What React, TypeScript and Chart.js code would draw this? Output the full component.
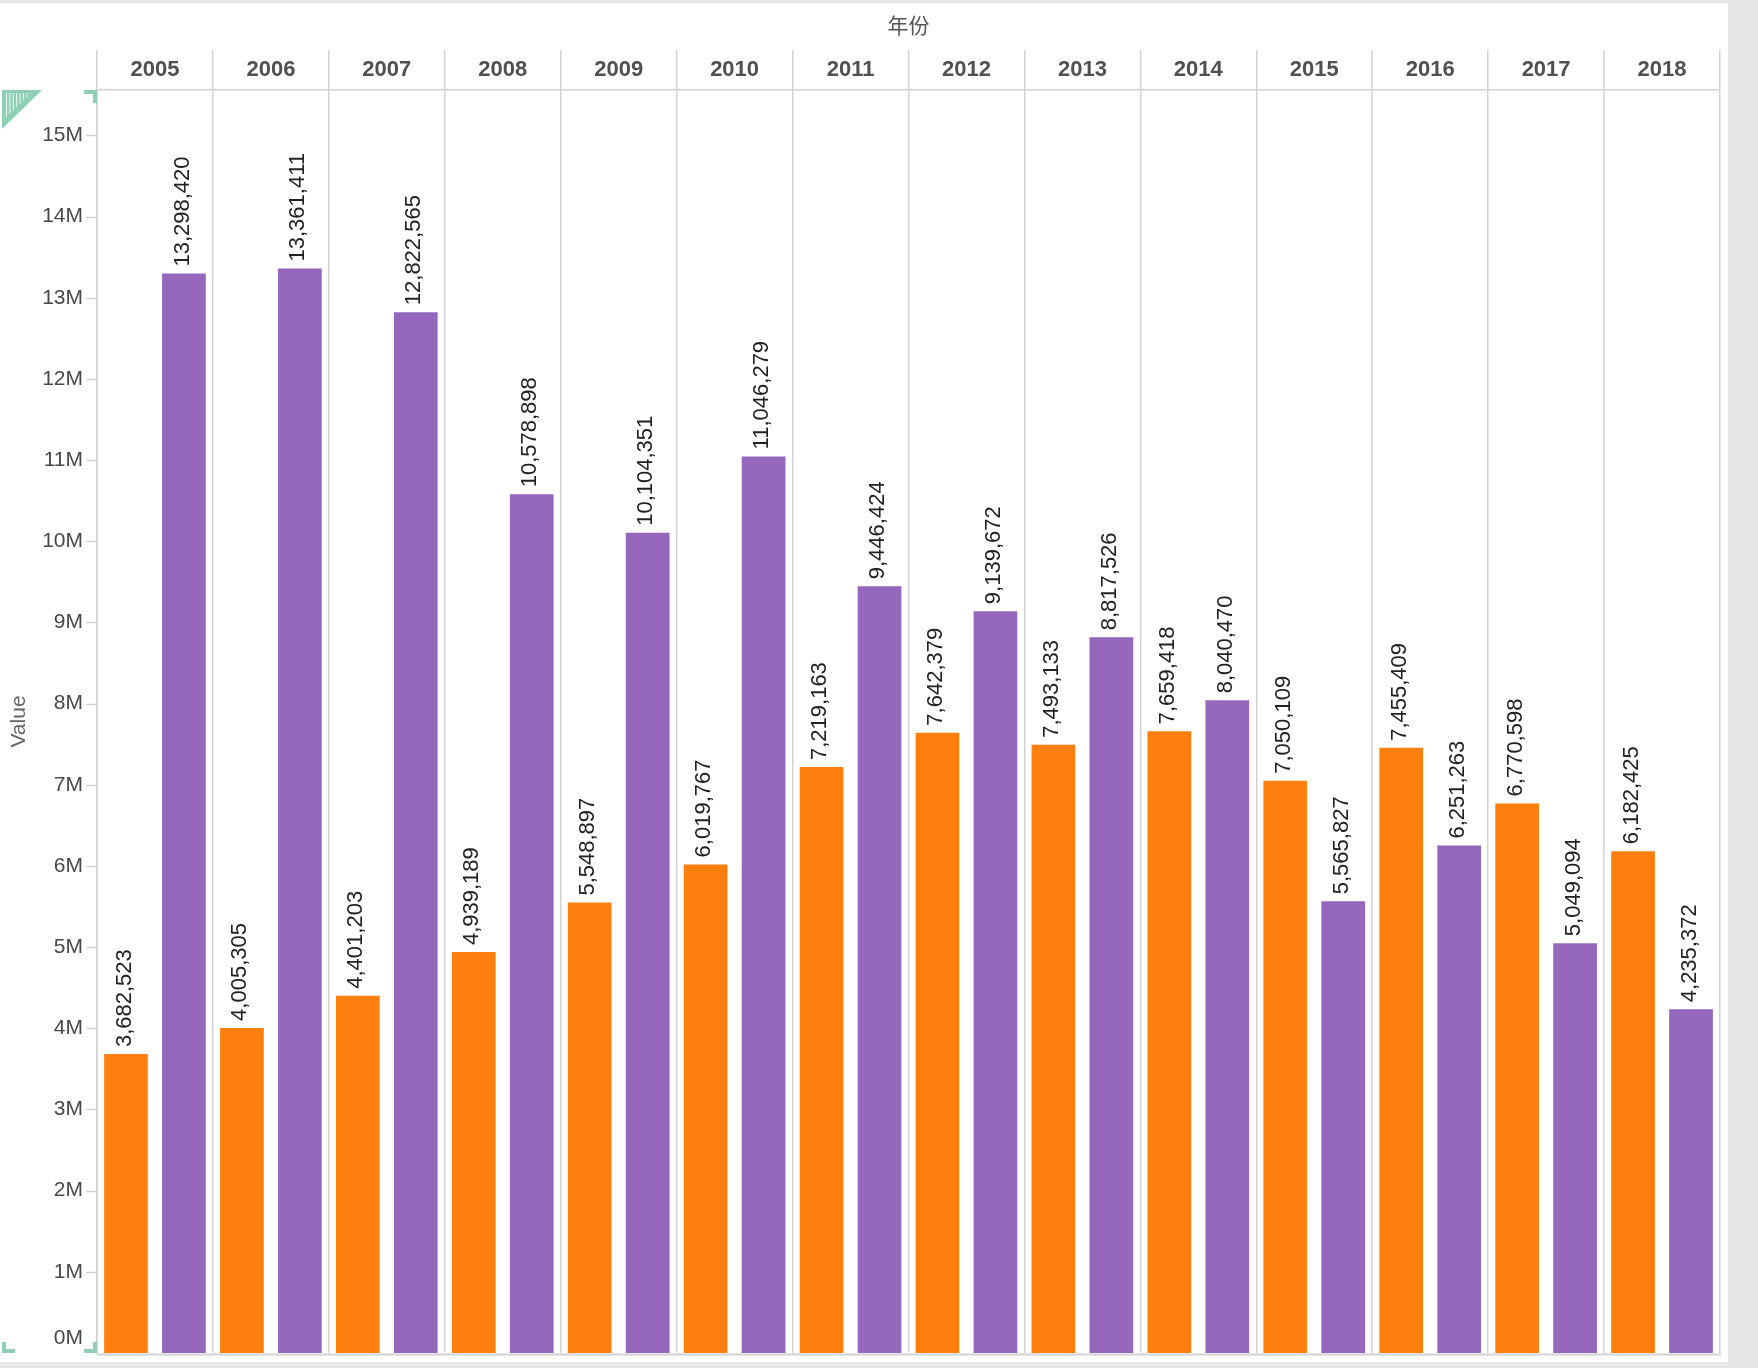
import React, { useEffect, useRef } from 'react';
import { Chart, registerables } from 'chart.js';

Chart.register(...registerables);

const years = ['2005', '2006', '2007', '2008', '2009', '2010', '2011', '2012', '2013', '2014', '2015', '2016', '2017', '2018'];
const orangeValues = [3682523, 4005305, 4401203, 4939189, 5548897, 6019767, 7219163, 7642379, 7493133, 7659418, 7050109, 7455409, 6770598, 6182425];
const purpleValues = [13298420, 13361411, 12822565, 10578898, 10104351, 11046279, 9446424, 9139672, 8817526, 8040470, 5565827, 6251263, 5049094, 4235372];
const yTickValues = [0, 1e6, 2e6, 3e6, 4e6, 5e6, 6e6, 7e6, 8e6, 9e6, 10e6, 11e6, 12e6, 13e6, 14e6, 15e6];
const yTickLabels = ['0M', '1M', '2M', '3M', '4M', '5M', '6M', '7M', '8M', '9M', '10M', '11M', '12M', '13M', '14M', '15M'];
const yMax = 15560000;
const xTitle = '年份';
const yTitle = 'Value';

const ORANGE = '#ff7f0e';
const PURPLE = '#9467bd';
const GRID = '#d2d2d2';
const GREEN = '#8fcfb3';
const FONT = '"Liberation Sans", Arial, Helvetica, sans-serif';

const valueLabels = {
  id: 'valueLabels',
  afterDatasetsDraw(chart: any) {
    const ctx = chart.ctx;
    ctx.save();
    ctx.font = `22px ${FONT}`;
    ctx.fillStyle = '#222';
    ctx.textAlign = 'left';
    ctx.textBaseline = 'middle';
    chart.data.datasets.forEach((ds: any, di: number) => {
      const meta = chart.getDatasetMeta(di);
      meta.data.forEach((bar: any, i: number) => {
        const v = ds.data[i] as number;
        ctx.save();
        ctx.translate(bar.x, bar.y - 7);
        ctx.rotate(-Math.PI / 2);
        ctx.fillText(v.toLocaleString('en-US'), 0, -1.5);
        ctx.restore();
      });
    });
    const ca = chart.chartArea;
    ctx.strokeStyle = GRID;
    ctx.lineWidth = 2;
    ctx.beginPath();
    ctx.moveTo(ca.left, ca.bottom + 1.5);
    ctx.lineTo(ca.right + 1, ca.bottom + 1.5);
    ctx.stroke();
    ctx.restore();
  },
};

const yAxisTicks = {
  id: 'yAxisTicks',
  afterDraw(chart: any) {
    const ctx = chart.ctx;
    const ca = chart.chartArea;
    const yScale = chart.scales.y;
    ctx.save();
    ctx.font = `21px ${FONT}`;
    ctx.fillStyle = '#484848';
    ctx.textAlign = 'right';
    ctx.textBaseline = 'middle';
    ctx.strokeStyle = GRID;
    ctx.lineWidth = 1.5;
    yTickValues.forEach((v, i) => {
      const y = yScale.getPixelForValue(v);
      if (v !== 0) {
        ctx.beginPath();
        ctx.moveTo(ca.left - 11, Math.round(y) + 0.5);
        ctx.lineTo(ca.left, Math.round(y) + 0.5);
        ctx.stroke();
        ctx.fillText(yTickLabels[i], ca.left - 14, y);
      } else {
        ctx.fillText(yTickLabels[i], ca.left - 14, y - 15);
      }
    });
    ctx.restore();
  },
};

const decorations = {
  id: 'decorations',
  afterDraw(chart: any) {
    const ctx = chart.ctx;
    const ca = chart.chartArea;
    ctx.save();
    const top = ca.top;
    ctx.fillStyle = GREEN;
    ctx.beginPath();
    ctx.moveTo(2, top);
    ctx.lineTo(42, top);
    ctx.lineTo(2, top + 39);
    ctx.closePath();
    ctx.fill();
    ctx.strokeStyle = 'rgba(255,255,255,0.85)';
    ctx.lineWidth = 1;
    for (let x = 6; x <= 32; x += 3.4) {
      const yEnd = top + (42 - x) * (39 / 40) - 8;
      ctx.beginPath();
      ctx.moveTo(x + 0.5, top + 3);
      ctx.lineTo(x + 0.5, Math.max(top + 3, yEnd));
      ctx.stroke();
    }
    ctx.fillStyle = GREEN;
    const L = ca.left;
    const B = ca.bottom;
    ctx.fillRect(L - 13, top, 13, 4);
    ctx.fillRect(L - 4, top, 4, 13);
    ctx.fillRect(2, B - 11, 4, 11);
    ctx.fillRect(2, B - 4, 13, 4);
    ctx.fillRect(L - 4, B - 11, 4, 11);
    ctx.fillRect(L - 13, B - 4, 13, 4);
    ctx.restore();
  },
};

export default function App() {
  const canvasRef = useRef<HTMLCanvasElement | null>(null);

  useEffect(() => {
    const canvas = canvasRef.current;
    if (!canvas) return;
    const chart = new Chart(canvas, {
      type: 'bar',
      data: {
        labels: years,
        datasets: [
          {
            label: 'A',
            data: orangeValues,
            backgroundColor: ORANGE,
            borderWidth: 0,
            barPercentage: 0.754,
            categoryPercentage: 1,
          },
          {
            label: 'B',
            data: purpleValues,
            backgroundColor: PURPLE,
            borderWidth: 0,
            barPercentage: 0.754,
            categoryPercentage: 1,
          },
        ],
      },
      options: {
        responsive: false,
        animation: false,
        devicePixelRatio: 1,
        layout: { padding: { top: 0, left: 0, right: 8, bottom: 9 } },
        plugins: {
          legend: { display: false },
          tooltip: { enabled: false },
        },
        scales: {
          x: {
            type: 'category',
            position: 'top',
            offset: true,
            grid: {
              offset: true,
              color: GRID,
              lineWidth: 1.5,
              drawTicks: true,
              tickLength: 40,
              tickColor: GRID,
            },
            border: { display: true, color: GRID, width: 1.5 },
            ticks: {
              color: '#505050',
              font: { family: FONT, size: 22, weight: 'bold' },
              padding: -33.2,
              maxRotation: 0,
              autoSkip: false,
            },
            title: {
              display: true,
              text: xTitle,
              color: '#555',
              font: { family: '"Noto Sans CJK SC", "Liberation Sans", sans-serif', size: 21 },
              padding: { top: 9, bottom: 0 },
            },
            afterFit: (scale: any) => {
              scale.height = 87;
              scale.paddingLeft = 0;
              scale.paddingRight = 0;
            },
          },
          y: {
            type: 'linear',
            position: 'left',
            min: 0,
            max: yMax,
            ticks: { display: false },
            grid: { display: false },
            border: { display: true, color: GRID, width: 1.5 },
            title: {
              display: true,
              text: yTitle,
              color: '#666',
              font: { family: FONT, size: 21 },
              padding: { top: 7, bottom: 0 },
            },
            afterFit: (scale: any) => {
              scale.width = 97;
              scale.paddingTop = 0;
              scale.paddingBottom = 0;
            },
          },
        },
      },
      plugins: [valueLabels, yAxisTicks, decorations],
    } as any);
    return () => chart.destroy();
  }, []);

  return (
    <div
      style={{
        position: 'absolute',
        left: 0,
        top: 0,
        width: 1758,
        height: 1368,
        background: '#e6e6e6',
        overflow: 'hidden',
      }}
    >
      <div
        style={{
          position: 'absolute',
          left: 0,
          top: 3,
          width: 1728,
          height: 1359,
          background: '#ffffff',
        }}
      >
        <canvas ref={canvasRef} width={1728} height={1359} style={{ display: 'block', width: 1728, height: 1359 }} />
      </div>
    </div>
  );
}
